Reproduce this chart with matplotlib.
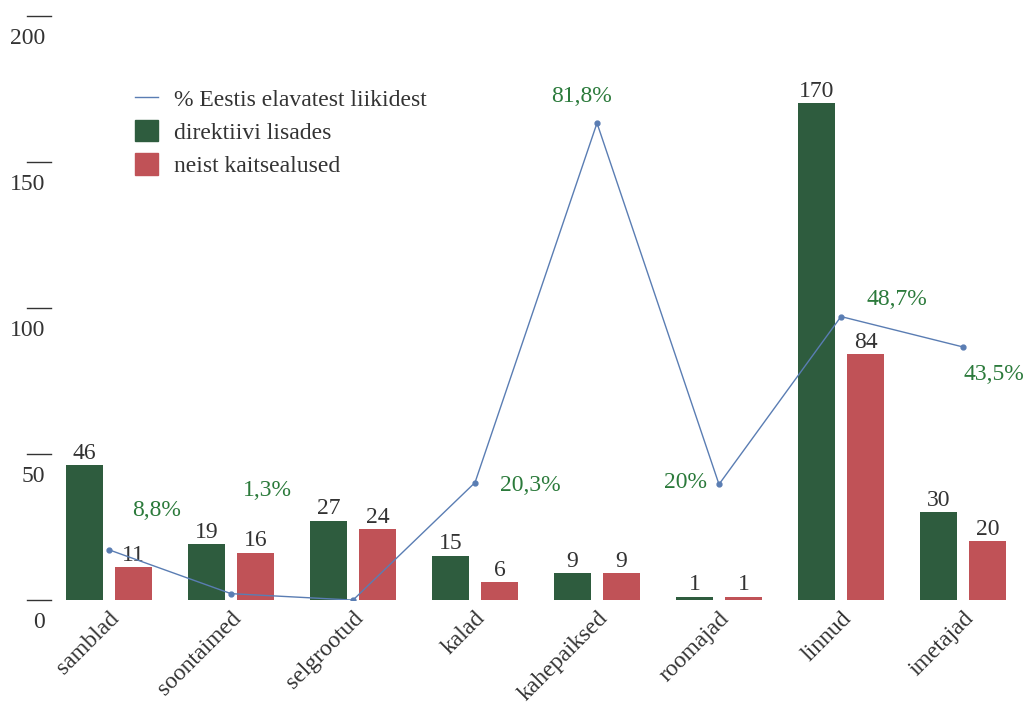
import numpy as np
import matplotlib.pyplot as plt
from matplotlib.patches import Patch
from matplotlib.lines import Line2D

plt.rcParams['font.family'] = ['Liberation Serif', 'DejaVu Serif']

categories = ['samblad', 'soontaimed', 'selgrootud', 'kalad', 'kahepaiksed',
              'roomajad', 'linnud', 'imetajad']
direktiivi = [46, 19, 27, 15, 9, 1, 170, 30]
kaitsealused = [11, 16, 24, 6, 9, 1, 84, 20]
protsent = [8.8, 1.3, 0.2, 20.3, 81.8, 20, 48.7, 43.5]
protsent_txt = ['8,8%', '1,3%', '0,2%', '20,3%', '81,8%', '20%', '48,7%', '43,5%']
y_ticks = [0, 50, 100, 150, 200]

# label offsets (points) for the percentage labels
pct_offsets = [(34, 28), (26, 74), (30, 96), (40, -2), (-11, 19), (-24, 1), (40, 12), (22, -20)]

GREEN = '#2e5c3e'
RED = '#c05257'
LINE = '#5a7db3'
PCT = '#2b7a3b'
TXT = '#333333'
FS = 17

W, H = 1026, 714
fig = plt.figure(figsize=(W / 100, H / 100), dpi=100)
ax = fig.add_axes([48 / W, 114.5 / H, 976 / W, 584 / H])

x = np.arange(len(categories))
bw = 37 / 122
off = 24.5 / 122
b1 = ax.bar(x - off, direktiivi, bw, color=GREEN)
b2 = ax.bar(x + off, kaitsealused, bw, color=RED)
for bars, vals in ((b1, direktiivi), (b2, kaitsealused)):
    for r, v in zip(bars, vals):
        ax.annotate(str(v), (r.get_x() + r.get_width() / 2, r.get_height()),
                    xytext=(0, 1), textcoords='offset points',
                    ha='center', va='bottom', fontsize=FS, color=TXT)

ax.set_xlim(-0.5, 7.5)
ax.set_ylim(0, 200)
for s in ax.spines.values():
    s.set_visible(False)
ax.set_yticks([])
ax.set_xticks(x)
ax.set_xticklabels(categories, rotation=45, ha='right', rotation_mode='anchor',
                   fontsize=FS, color=TXT)
ax.tick_params(axis='x', length=0, pad=6)

# short tick lines with labels underneath
tr = ax.get_yaxis_transform()
for t in y_ticks:
    ax.plot([-21 / 976, 3 / 976], [t, t], transform=tr, color=TXT, lw=1, clip_on=False)
    ax.annotate(str(t), (-3 / 976, t), xycoords=tr, xytext=(0, -9),
                textcoords='offset points', ha='right', va='top', fontsize=FS, color=TXT)

ax2 = ax.twinx()
ax2.set_ylim(0.3, 100.2)
ax2.axis('off')
ax2.plot(x, protsent, color=LINE, lw=1, marker='o', markersize=3.5)
for xi, p, t, (dx, dy) in zip(x, protsent, protsent_txt, pct_offsets):
    ax2.annotate(t, (xi, p), xytext=(dx, dy), textcoords='offset points',
                 ha='center', va='center', fontsize=FS, color=PCT)

handles = [Line2D([], [], color=LINE, lw=1),
           Patch(color=GREEN), Patch(color=RED)]
labels = ['% Eestis elavatest liikidest', 'direktiivi lisades', 'neist kaitsealused']
fig.legend(handles, labels, loc='upper left', bbox_to_anchor=(114 / W, 1 - 66 / H),
           frameon=False, fontsize=FS, handlelength=0.95, handleheight=1.0,
           handletextpad=0.7, labelspacing=0.4, labelcolor=TXT)

fig.savefig('out.png', dpi=100)
